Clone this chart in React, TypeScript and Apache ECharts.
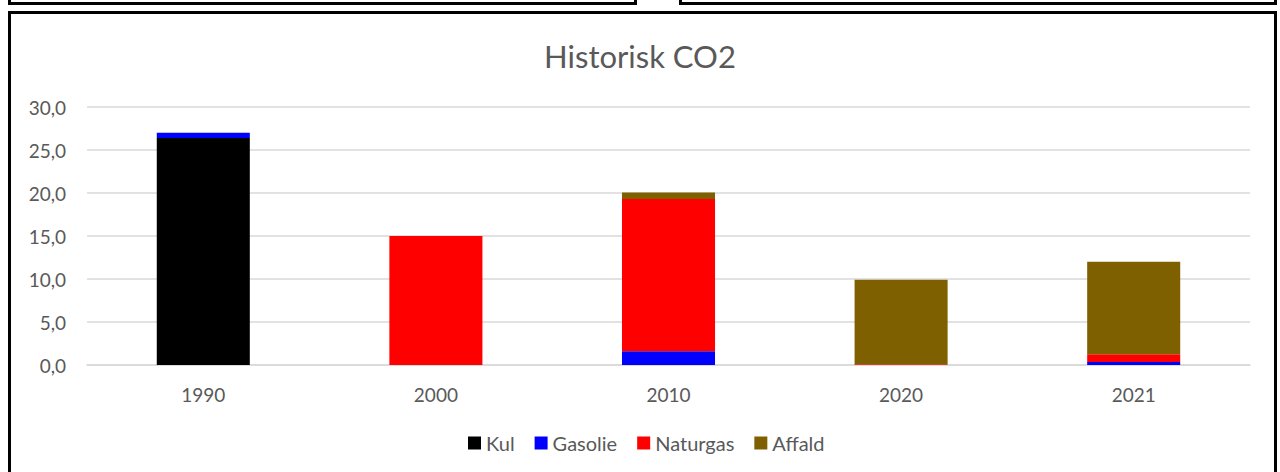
import React, { useEffect, useRef } from "react";
import * as echarts from "echarts";

const categories = ["1990", "2000", "2010", "2020", "2021"];
const kul = [26.4, 0, 0, 0, 0];
const gasolie = [0.6, 0, 1.6, 0, 0.35];
const naturgas = [0, 15.0, 17.7, 0.1, 0.9];
const affald = [0, 0, 0.75, 9.8, 10.75];
const seriesNames = ["Kul", "Gasolie", "Naturgas", "Affald"];
const seriesColors = ["#000000", "#0000FF", "#FF0000", "#7F6000"];
const yTicks = [0, 5, 10, 15, 20, 25, 30];

const FONT = "Lato, 'Open Sans', sans-serif";

export default function App() {
  const ref = useRef<HTMLDivElement>(null);
  useEffect(() => {
    if (!ref.current) return;
    const chart = echarts.init(ref.current, null, { renderer: "svg" });
    const data = [kul, gasolie, naturgas, affald];
    chart.setOption({
      animation: false,
      title: {
        text: "Historisk CO2",
        left: "center",
        top: 35,
        textStyle: { fontFamily: FONT, fontSize: 31, fontWeight: "normal", color: "#595959" },
      },
      legend: {
        bottom: 14,
        left: 463,
        icon: "rect",
        itemWidth: 13,
        itemHeight: 13,
        itemGap: 20,
        data: seriesNames,
        textStyle: { fontFamily: FONT, fontSize: 20, color: "#595959" },
      },
      grid: { left: 87, right: 30, top: 107, bottom: 107 },
      xAxis: {
        type: "category",
        data: categories,
        axisTick: { show: false },
        axisLine: { lineStyle: { color: "#d9d9d9", width: 1.5 } },
        axisLabel: { fontFamily: FONT, fontSize: 19, color: "#595959", margin: 20 },
      },
      yAxis: {
        type: "value",
        min: yTicks[0],
        max: yTicks[yTicks.length - 1],
        interval: 5,
        axisLabel: {
          fontFamily: FONT,
          fontSize: 19,
          color: "#595959",
          margin: 21,
          formatter: (v: number) => v.toFixed(1).replace(".", ","),
        },
        splitLine: { lineStyle: { color: "#d9d9d9", width: 1.5 } },
      },
      series: seriesNames.map((name, i) => ({
        name,
        type: "bar",
        stack: "total",
        barWidth: "40%",
        itemStyle: { color: seriesColors[i] },
        data: data[i],
      })),
    });
    return () => chart.dispose();
  }, []);

  const box = (left: number, top: number, width: number, height: number): React.CSSProperties => ({
    position: "absolute",
    left,
    top,
    width,
    height,
    border: "3px solid #000",
    boxSizing: "border-box",
  });

  return (
    <div style={{ position: "fixed", left: 0, top: 0, width: 1280, height: 472, overflow: "hidden", background: "#fff" }}>
      <div style={box(8, -22, 629, 27)} />
      <div style={box(679, -22, 598, 27)} />
      <div style={box(8, 11, 1269, 500)} />
      <div ref={ref} style={{ position: "absolute", left: 0, top: 0, width: 1280, height: 472 }} />
    </div>
  );
}
